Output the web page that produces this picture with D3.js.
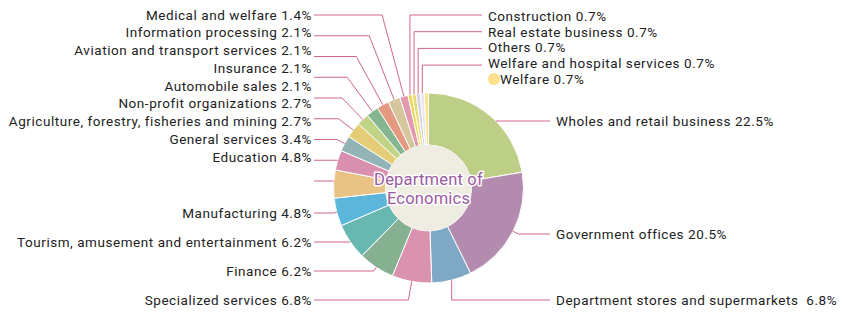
<!DOCTYPE html>
<html>
<head>
<meta charset="utf-8">
<script src="https://cdn.jsdelivr.net/npm/d3@7"></script>
<style>
  body { margin: 0; background: #fff; }
  text { font-family: Roboto, "Noto Sans", sans-serif; }
</style>
</head>
<body>
<div id="chart"></div>
<script>
// DATA (clockwise from 12 o'clock)
const categories = [
    "Wholes and retail business", "Government offices", "Department stores and supermarkets ",
    "Specialized services", "Finance", "Tourism, amusement and entertainment", "Manufacturing",
    "Education", "General services", "Agriculture, forestry, fisheries and mining",
    "Non-profit organizations", "Automobile sales", "Insurance", "Aviation and transport services",
    "Information processing", "Medical and welfare", "Construction", "Real estate business",
    "Others", "Welfare and hospital services", "Welfare"
];
const values = [22.5, 20.5, 6.8, 6.8, 6.2, 6.2, 4.8, 4.8, 3.4, 2.7, 2.7, 2.1, 2.1, 2.1, 2.1, 1.4, 0.7, 0.7, 0.7, 0.7, 0.7];
const colors = [
    "#bdcf86", "#b38bae", "#7fa8c7", "#d993ae", "#85b190", "#68b8b1", "#5bb6da",
    "#e9c285", "#d98fae", "#92b4b6", "#e5cd78", "#c1d386", "#85b690", "#e39a80",
    "#d5c69e", "#e39aae", "#eed85c", "#e9dc74", "#d6d3e2", "#ebe6ee", "#fce08c"
];
const centerTitle = ["Department of", "Economics"];

const width = 860, height = 330;
const cx = 428.5, cy = 188;
const rOuter = 95, rInner = 43;
const lineColor = "#d2648a";
const fontSize = 13.5;
const spacing = 0.55;

const data = categories.map((c, i) => ({ name: c, value: values[i], color: colors[i], i }));

const pie = d3.pie().sort(null).value(d => d.value);
const arcs = pie(data);
const arc = d3.arc().innerRadius(rInner).outerRadius(rOuter);

const svg = d3.select("#chart").append("svg")
    .attr("width", width).attr("height", height);

const g = svg.append("g").attr("transform", `translate(${cx},${cy})`);

g.selectAll("path.slice")
    .data(arcs)
    .join("path")
    .attr("class", "slice")
    .attr("d", arc)
    .attr("fill", d => d.data.color)
    .attr("stroke", "#fff")
    .attr("stroke-width", 1);

g.append("circle").attr("r", rInner).attr("fill", "#efede2");

g.selectAll("text.center")
    .data(centerTitle)
    .join("text")
    .attr("class", "center")
    .attr("text-anchor", "middle")
    .attr("y", (d, i) => -9 + i * 19)
    .attr("dy", "0.35em")
    .attr("font-size", 16.5)
    .attr("letter-spacing", 0.2)
    .attr("fill", "#9a5aa0")
    .attr("stroke", "#fff")
    .attr("stroke-width", 3)
    .attr("stroke-linejoin", "round")
    .attr("paint-order", "stroke")
    .text(d => d);

// label layout: which side, text y, line y
const layout = new Map();
const leftTop = [15, 14, 13, 12, 11, 10, 9, 8, 7];
leftTop.forEach((idx, k) => layout.set(idx, { side: "left", ty: 15 + k * 17.75, ly: 15 + k * 20.75 }));
[6, 5, 4, 3].forEach((idx, k) => layout.set(idx, { side: "left", ty: 213 + k * 29, ly: 213 + k * 29 }));
[[0, 121], [1, 234], [2, 300]].forEach(([idx, y]) => layout.set(idx, { side: "right", ty: y, ly: y }));
[16, 17, 18, 19].forEach((idx, k) => layout.set(idx, { side: "top", ty: 16 + k * 15.8, ly: 15 + k * 16.7 }));

const leftTextX = 312, leftLineX = 314;
const rightTextX = 556, rightLineX = 550;
const topTextX = 488, topLineX = 482;

function leaderPoints(a, L) {
    const mid = (a.startAngle + a.endAngle) / 2;
    const dir = [Math.sin(mid), -Math.cos(mid)];
    const anchor = [cx + rOuter * dir[0], cy + rOuter * dir[1]];
    const endX = L.side === "left" ? leftLineX : L.side === "right" ? rightLineX : topLineX;
    if (L.side === "top") {
        return [anchor, [anchor[0], L.ly], [endX, L.ly]];
    }
    const t = (L.ly - anchor[1]) / dir[1];
    if (t >= 0 && t <= 14) {
        return [anchor, [anchor[0] + t * dir[0], L.ly], [endX, L.ly]];
    }
    const dy = L.ly - cy;
    if (Math.abs(dy) < rOuter) {
        const dx = Math.sqrt(rOuter * rOuter - dy * dy) * (L.side === "left" ? -1 : 1);
        let ang = Math.atan2(dx, -dy);
        if (ang < 0) ang += 2 * Math.PI;
        if (t < 0 || (ang >= a.startAngle && ang <= a.endAngle)) {
            return [[cx + dx, L.ly], [endX, L.ly]];
        }
    }
    // near the bottom: drop straight down from the rim
    if (L.side === "right") {
        return [anchor, [anchor[0], L.ly], [endX, L.ly]];
    }
    return [anchor, [anchor[0] + t * dir[0], L.ly], [endX, L.ly]];
}

const labelled = arcs.filter(a => layout.has(a.data.i));

svg.append("g").selectAll("path")
    .data(labelled)
    .join("path")
    .attr("d", a => d3.line()(leaderPoints(a, layout.get(a.data.i))))
    .attr("fill", "none")
    .attr("stroke", lineColor)
    .attr("stroke-width", 1);

svg.append("g").selectAll("text")
    .data(labelled)
    .join("text")
    .attr("x", a => {
        const s = layout.get(a.data.i).side;
        return s === "left" ? leftTextX : s === "right" ? rightTextX : topTextX;
    })
    .attr("y", a => layout.get(a.data.i).ty)
    .attr("dy", "0.35em")
    .attr("text-anchor", a => layout.get(a.data.i).side === "left" ? "end" : "start")
    .attr("font-size", fontSize)
    .attr("letter-spacing", spacing)
    .attr("fill", "#222")
    .style("white-space", "pre")
    .text(a => `${a.data.name} ${a.data.value}%`);

// last slice: legend dot instead of leader line
const last = arcs[arcs.length - 1];
const dotY = 79;
svg.append("circle")
    .attr("cx", 494).attr("cy", dotY).attr("r", 6)
    .attr("fill", last.data.color);
svg.append("text")
    .attr("x", 500).attr("y", dotY).attr("dy", "0.35em")
    .attr("font-size", fontSize)
    .attr("letter-spacing", spacing)
    .attr("fill", "#222")
    .text(`${last.data.name} ${last.data.value}%`);
</script>
</body>
</html>
